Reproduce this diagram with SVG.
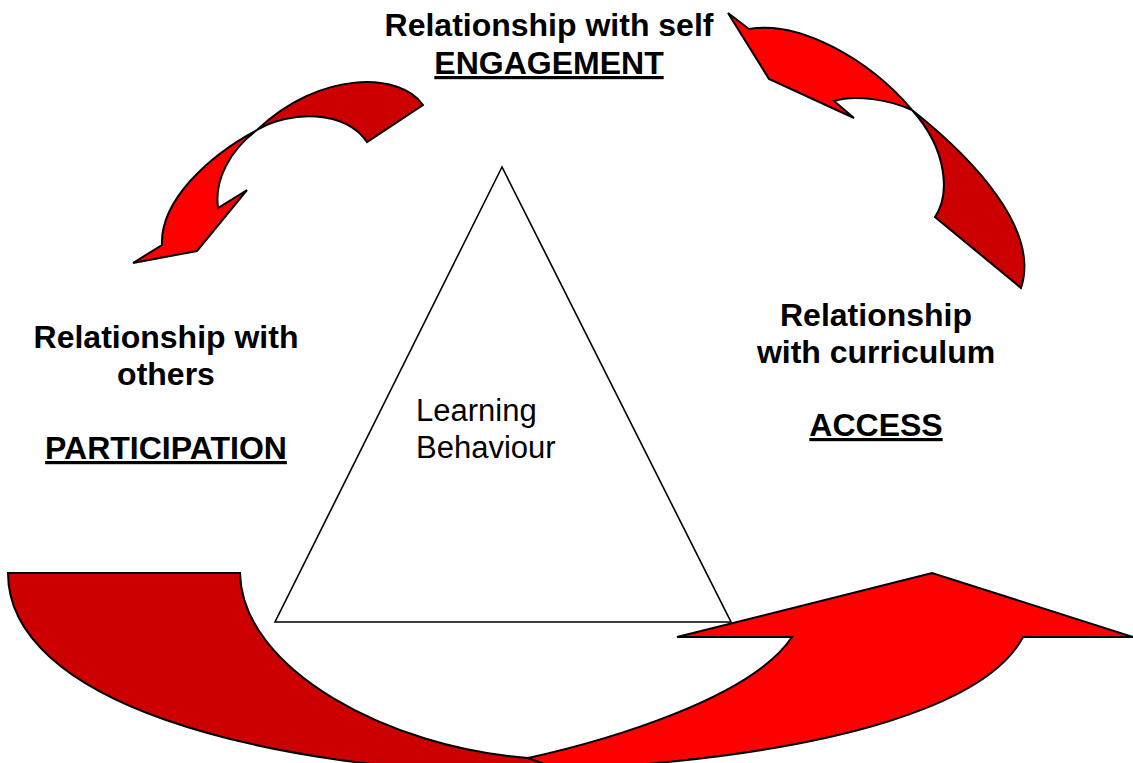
<svg xmlns="http://www.w3.org/2000/svg" width="1133" height="763" viewBox="0 0 1133 763">
<style>
.dark{fill:#CC0000;stroke:#000;stroke-width:2;stroke-linejoin:miter}
.bright{fill:#FF0000;stroke:#000;stroke-width:2;stroke-linejoin:miter}
.tri{fill:#fff;stroke:#000;stroke-width:1.6}
.lbl{font-family:"Liberation Sans",Arial,sans-serif;font-size:32px;font-weight:bold;fill:#000;text-anchor:middle}
.u{text-decoration:underline}
.inner{font-family:"Liberation Sans",Arial,sans-serif;font-size:31px;fill:#000}
</style>
<rect width="1133" height="763" fill="#fff"/>
<g id="node-triangle">
<polygon class="tri" points="502,167 275,622 731,622"/>
<text class="inner" x="416" y="421">Learning</text>
<text class="inner" x="416" y="458">Behaviour</text>
</g>
<g id="connectors">
<g id="arrow-top-left">
<path class="dark" d="M423,105 C400,72 320,70 257,130 C290,110 345,110 367,142 Z"/>
<path class="bright" d="M257,130 C210,155 160,200 162,245 L133,263 L197,251 L247,190 L218,208 C214,180 230,150 257,130 Z"/>
</g>
<g id="arrow-top-right">
<path class="dark" d="M912,110 C975,160 1040,230 1021,288 L935,217 C950,195 948,150 912,110 Z"/>
<path class="bright" d="M912,110 C870,60 800,20 749,29 L728,13 L769,79 L854,118 L834,101 C855,94 890,100 912,110 Z"/>
</g>
<g id="arrow-bottom">
<path class="dark" d="M8,573 L240,573 C242,670 390,748 528,758 L600,775 L540,775 C250,770 8,700 8,573 Z"/>
<path class="bright" d="M528,758 C600,742 750,700 792,637 L677,637 L932,573 L1133,637 L1023,637 C990,700 850,755 560,770 L528,758 Z"/>
</g>
</g>
<g id="node-self">
<text class="lbl" x="549" y="36">Relationship with self</text>
<text class="lbl u" x="549" y="74">ENGAGEMENT</text>
</g>
<g id="node-others">
<text class="lbl" x="166" y="348">Relationship with</text>
<text class="lbl" x="166" y="385">others</text>
<text class="lbl u" x="166" y="459">PARTICIPATION</text>
</g>
<g id="node-curriculum">
<text class="lbl" x="876" y="326">Relationship</text>
<text class="lbl" x="876" y="363">with curriculum</text>
<text class="lbl u" x="876" y="436">ACCESS</text>
</g>
</svg>
